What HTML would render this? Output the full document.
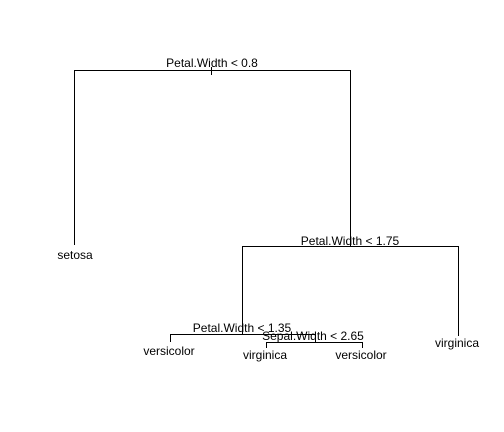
<!DOCTYPE html>
<html><head><style>body{margin:0;background:#fff}</style></head><body>
<svg width="504" height="432" xmlns="http://www.w3.org/2000/svg" style="display:block">
<rect width="504" height="432" fill="#fff"/>
<g stroke="#000" stroke-width="1" fill="none">
<path d="M74.5 245V70.5H350.5V246.5"/>
<path d="M211.5 67V75"/>
<path d="M242.5 335V246.5H458.5V336"/>
<path d="M170.5 342V334.5H315.5V342"/>
<path d="M266.5 348V342.5H362.5V348"/>
</g>
<g font-family="Liberation Sans, Arial, sans-serif" font-size="12" text-anchor="middle" fill="#000">
<text x="212" y="67">Petal.Width &lt; 0.8</text>
<text x="75" y="259">setosa</text>
<text x="350" y="245">Petal.Width &lt; 1.75</text>
<text x="457" y="347">virginica</text>
<text x="242" y="332">Petal.Width &lt; 1.35</text>
<text x="169" y="355">versicolor</text>
<text x="313" y="340">Sepal.Width &lt; 2.65</text>
<text x="265" y="359">virginica</text>
<text x="361" y="359">versicolor</text>
</g>
</svg>
</body></html>
